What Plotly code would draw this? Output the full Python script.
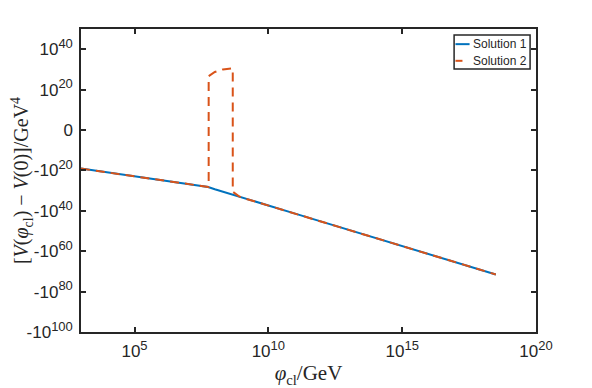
import numpy as np
import plotly.graph_objects as go

# field value phi_cl in GeV
phi1 = [1e3, 1e4, 1e5, 1e6, 1e7, 3.16e7, 5.62e7, 1e8, 3.16e8, 1e9, 1e10,
        1e11, 1e12, 1e13, 1e14, 1e15, 1e16, 1e17, 1e18, 3.16e18]
# V(phi) - V(0) in GeV^4, solution 1
v1 = [-1.26e19, -1.0e21, -7.9e22, -6.3e24, -4.0e26, -3.2e27, -1.6e28,
      -2.0e29, -2.5e31, -2.5e33, -2.5e37, -2.5e41, -2.5e45, -2.5e49,
      -2.5e53, -2.5e57, -2.5e61, -2.5e65, -2.5e69, -3.2e71]

# solution 2 (jumps to positive values near 1e8 GeV)
phi2 = [1e3, 1e4, 1e5, 1e6, 1e7, 3.16e7, 5.62e7, 5.89e7, 5.89e7, 7.94e7,
        1e8, 2.0e8, 3.55e8, 4.68e8, 4.68e8, 6.0e8, 7.8e8, 1e9, 1e10,
        1e11, 1e12, 1e13, 1e14, 1e15, 1e16, 1e17, 1e18, 3.16e18]
v2 = [-1.26e19, -1.0e21, -7.9e22, -6.3e24, -4.0e26, -3.2e27, -1.6e28,
      -1.7e28, 5.0e26, 6.3e27, 5.0e28, 1.0e30, 3.2e30, 4.0e30, -4.0e30,
      -5.0e31, -5.0e32, -2.5e33, -2.5e37, -2.5e41, -2.5e45, -2.5e49,
      -2.5e53, -2.5e57, -2.5e61, -2.5e65, -2.5e69, -3.2e71]

names = ["Solution 1", "Solution 2"]
colors = ["#0072BD", "#D95319"]
dashes = ["solid", "9px,6px"]

SUP = "<sup><span style='font-size:13px'>%s</span></sup>"
x_ticks = [1e5, 1e10, 1e15, 1e20]
x_labels = ["10" + SUP % e for e in ["5", "10", "15", "20"]]
y_ticks = [40, 20, 0, -20, -40, -60, -80, -100]
y_labels = ["10" + SUP % "40", "10" + SUP % "20", "0", "-10" + SUP % "20",
            "-10" + SUP % "40", "-10" + SUP % "60", "-10" + SUP % "80",
            "-10" + SUP % "100"]


def symlog(v):
    v = np.asarray(v, dtype=float)
    return np.sign(v) * np.log10(np.abs(v))


fig = go.Figure()
for phi, v, name, c, d in zip([phi1, phi2], [v1, v2], names, colors, dashes):
    fig.add_trace(go.Scatter(x=phi, y=symlog(v), mode="lines", name=name,
                             line=dict(color=c, width=2, dash=d)))

# compact matlab-like legend box (paper coords)
fig.add_shape(type="rect", xref="paper", yref="paper", x0=0.820, x1=0.987,
              y0=0.868, y1=0.980, fillcolor="white",
              line=dict(color="#262626", width=1.5))
for i, (name, c) in enumerate(zip(names, colors)):
    yy = 0.950 - i * 0.055
    fig.add_shape(type="line", xref="paper", yref="paper", x0=0.823, x1=0.854,
                  y0=yy, y1=yy,
                  line=dict(color=c, width=2, dash="solid" if i == 0 else "7px,8px"))
    fig.add_annotation(x=0.858, y=yy, xref="paper", yref="paper", text=name,
                       showarrow=False, xanchor="left", yanchor="middle",
                       font=dict(family="Liberation Sans", size=12, color="#262626"))

axis_style = dict(showline=True, linecolor="#262626", linewidth=1.5,
                  mirror="ticks", ticks="inside", ticklen=5, tickwidth=1.5,
                  tickcolor="#262626", showgrid=False, zeroline=False,
                  ticklabelstandoff=3, automargin=False,
                  tickfont=dict(family="Liberation Sans", size=17, color="#262626"))

fig.update_layout(
    width=592, height=388,
    # page body adds 8px offset, margins compensate
    margin=dict(l=73, r=64, t=21, b=64),
    paper_bgcolor="white", plot_bgcolor="white",
    xaxis=dict(type="log", range=[3, 20], tickvals=x_ticks, ticktext=x_labels,
               title=dict(text="<i>φ</i><sub>cl</sub>/GeV",
                          font=dict(family="Liberation Serif", size=21, color="#262626"),
                          standoff=2),
               **axis_style),
    yaxis=dict(range=[-100, 50], tickvals=y_ticks, ticktext=y_labels,
               title=dict(text="[<i>V</i>(<i>φ</i><sub>cl</sub>) − <i>V</i>(0)]/GeV<sup>4</sup>",
                          font=dict(family="Liberation Serif", size=20, color="#262626"),
                          standoff=2),
               **axis_style),
    showlegend=False,
)

fig.write_html("out.html")
